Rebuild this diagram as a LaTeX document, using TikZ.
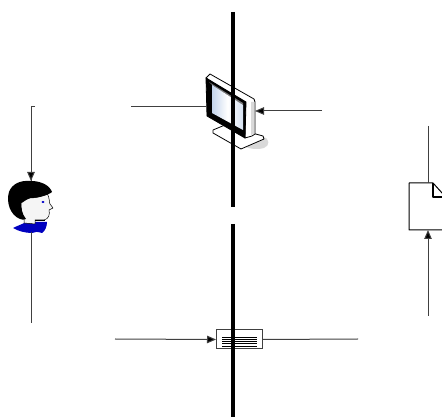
\documentclass[tikz,border=0pt]{standalone}
\usetikzlibrary{arrows.meta,calc}
\definecolor{wire}{gray}{0.25}
\definecolor{screenL}{RGB}{196,212,236}
\definecolor{screenR}{RGB}{214,226,242}
\tikzset{
  conn/.style={draw=wire,line width=1pt},
  arr/.style={conn,-{Triangle[length=9pt,width=7.5pt,fill=black]}},
  bar/.style={draw=black,line width=3.2pt},
  outline/.style={draw=black,line width=0.8pt,line join=round},
}
\begin{document}
\begin{tikzpicture}[x=1pt,y=-1pt,line cap=butt]
\useasboundingbox (0,0) rectangle (442,419);
% named anchors
\coordinate (barAtop) at (233,12);
\coordinate (barAbot) at (233,207);
\coordinate (barBtop) at (233,224);
\coordinate (barBbot) at (233,417);
\coordinate (monL) at (206,107);
\coordinate (monR) at (255,111);
\coordinate (monLfree) at (131,107);
\coordinate (monRfree) at (322,111);
\coordinate (headT) at (31,181);
\coordinate (headB) at (31,232);
\coordinate (headTfree) at (31,107);
\coordinate (headTick) at (35,107);
\coordinate (headBfree) at (31,323);
\coordinate (docT) at (428,183);
\coordinate (docB) at (428,230);
\coordinate (docTfree) at (428,126);
\coordinate (docBfree) at (428,316);
\coordinate (formLfree) at (115,339);
\coordinate (formRfree) at (358,339);
% monitor
\fill[gray!30] (240,147) -- (263,137) .. controls (270,138) and (270,146) .. (264,148) .. controls (258,150) and (250,149) .. (246,147) -- cycle;
\filldraw[fill=white,outline] (213,130) -- (225,125) -- (252,133) -- (263,136) -- (264,139) -- (241,149) -- (213,133) -- cycle;
\filldraw[fill=white,outline] (206,78) -- (210,74) -- (254,99) -- (255,102) -- (255,134) -- (252,136) -- (245,138) -- (245,105) -- cycle;
\fill[black!15] (251,102) -- (254,102) -- (254,134) -- (251,135) -- cycle;
\filldraw[fill=black,outline] (206,78) -- (246,102) -- (245,138) -- (207,116) -- cycle;
\fill[black!55] (209,82) -- (243,103) -- (243,105) -- (212,85) -- cycle;
\shade[left color=screenL,right color=screenR,middle color=white] (212,85) -- (243,105) -- (243,130) -- (212,113) -- cycle;
% person
\fill[blue!75!black] (13,228) .. controls (19,225) and (23,224) .. (26,222) -- (47,222) .. controls (47,227) and (45,231) .. (42,233) .. controls (38,232) and (35,231) .. (32,233) .. controls (25,233) and (18,231) .. (13,228) -- cycle;
\filldraw[fill=black!4,outline,line width=0.5pt] (21,203) .. controls (26,200) and (28,198) .. (30,198) .. controls (37,198) and (44,196) .. (47,193) .. controls (50,198) and (49,203) .. (50,204) -- (53,208) -- (49,210) .. controls (50,214) and (49,219) .. (44,220) -- (35,220) -- (35,224) -- (24,223) -- (24,218) .. controls (22,214) and (21,210) .. (21,203) -- cycle;
\fill[black] (52,192) .. controls (50,186) and (42,181) .. (31,181) .. controls (20,180) and (12,184) .. (9,192) .. controls (6,202) and (10,215) .. (20,219) .. controls (22,220) and (24,220) .. (26,219) .. controls (22,214) and (21,208) .. (21,203) .. controls (26,200) and (28,198) .. (30,198) .. controls (37,198) and (47,196) .. (52,192) -- cycle;
\fill[blue!80!black] (43,202) ellipse (1.6 and 1.1);
\draw[black,line width=0.7pt] (35,220) -- (45,220);
% document
\node[inner sep=0pt,minimum size=0pt] (doc) at (428,206) {};
\draw[outline,line width=1pt] (443,230) -- (409,230) -- (409,183) -- (433,183) -- (443,194);
\draw[outline,line width=1.2pt] (433,183) -- (433,197) -- (443,197);
% form
\node[draw=black!75,fill=white,line width=1pt,minimum width=46pt,minimum height=19pt,inner sep=0pt,outer sep=0pt] (form) at (239,339.5) {};
\foreach \yy in {337,339.5,341.5,343.5,346}
  \draw[black,line width=0.9pt] (222,\yy) -- (257,\yy);
% connectors
\draw[conn] (monLfree) -- (monL);
\draw[arr] (monRfree) -- (monR);
\draw[conn] (headTick) -- (headTfree) -- (headT);
\draw[arr] (headTfree) -- (headT);
\draw[conn] (headB) -- (headBfree);
\draw[conn] (docTfree) -- (docT);
\draw[arr] (docBfree) -- (docB);
\draw[arr] (formLfree) -- (form.west);
\draw[conn] (form.east) -- (formRfree);
% bars
\draw[bar] (barAtop) -- (barAbot);
\draw[bar] (barBtop) -- (barBbot);
\end{tikzpicture}
\end{document}
